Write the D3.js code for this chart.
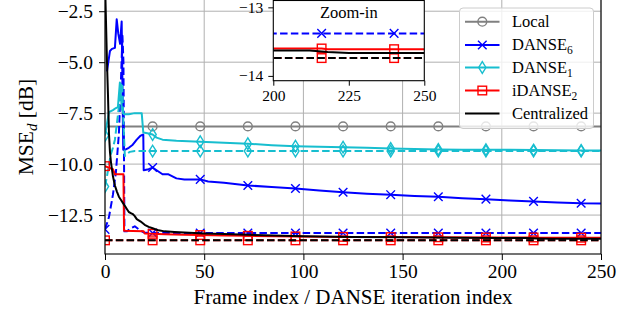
<!DOCTYPE html>
<html><head><meta charset="utf-8">
<script src="https://cdn.jsdelivr.net/npm/d3@7"></script>
<style>
html,body{margin:0;padding:0;background:#fff;}
svg{display:block;}
svg text{font-family:"Liberation Serif","Times New Roman",serif !important;}
</style></head>
<body>
<svg id="chart" width="640" height="315"></svg>
<script>
// ---------------- DATA ----------------
const xTicks = [0, 50, 100, 150, 200, 250];
const yTicks = [-2.5, -5.0, -7.5, -10.0, -12.5];
const insetXTicks = [200, 225, 250];
const insetYTicks = [-13, -14];
const legendLabels = ["Local", "DANSE", "DANSE", "iDANSE", "Centralized"];
const legendSubs = ["", "6", "1", "2", ""];

const localX = [1, 24, 48, 72, 96, 120, 144, 168, 192, 216, 240, 250];
const localY = [-8.15, -8.15, -8.15, -8.15, -8.15, -8.15, -8.15, -8.15, -8.15, -8.15, -8.15, -8.15];

const danse6X = [1, 2.5, 3.5, 5, 5.9, 6.7, 7.6, 8.4, 9.2, 10, 12, 14, 16, 18, 19.3, 19.5, 22, 24, 26, 29, 32, 36, 40, 48, 52, 60, 72, 84, 96, 108, 120, 132, 144, 156, 168, 180, 192, 204, 216, 228, 240, 250];
const danse6Y = [-5.45, -4.45, -4.35, -4.3, -2.9, -3.6, -4.1, -3.0, -9.3, -9.3, -9.2, -9.05, -8.8, -8.6, -8.55, -10.3, -10.25, -10.17, -10.3, -10.5, -10.5, -10.7, -10.75, -10.75, -10.85, -10.92, -11.05, -11.12, -11.2, -11.3, -11.38, -11.45, -11.5, -11.56, -11.6, -11.67, -11.72, -11.78, -11.83, -11.88, -11.92, -11.93];

const danse6dX = [0, 2, 4, 5.5, 7, 8, 8.8, 9.3, 9.8, 11, 13, 15, 17, 19.5, 24, 48, 72, 96, 120, 144, 168, 192, 216, 240, 250];
const danse6dY = [-13.2, -12.6, -11.5, -10.4, -8.5, -6.0, -3.7, -5.0, -13.3, -13.3, -13.15, -13.05, -13.2, -13.35, -13.38, -13.38, -13.38, -13.38, -13.38, -13.38, -13.38, -13.38, -13.38, -13.38, -13.38];

const danse1X = [0, 1, 2, 4, 5.5, 6.5, 7.5, 8.5, 9.5, 12, 15, 18.5, 19.3, 22, 24, 26, 29, 36, 48, 60, 72, 84, 96, 108, 120, 132, 144, 156, 168, 180, 192, 204, 216, 228, 240, 250];
const danse1Y = [-8.6, -8.0, -7.45, -7.35, -7.25, -7.2, -6.0, -7.3, -7.55, -7.55, -7.5, -7.5, -8.45, -8.5, -8.55, -8.7, -8.8, -8.85, -8.9, -8.95, -9.0, -9.07, -9.12, -9.15, -9.17, -9.2, -9.23, -9.26, -9.28, -9.29, -9.29, -9.3, -9.31, -9.32, -9.33, -9.33];

const danse1dX = [0, 1, 2, 3, 4, 5, 6, 7, 8, 8.6, 9.3, 10, 11, 12.5, 15, 24, 48, 72, 96, 120, 144, 168, 192, 216, 240, 250];
const danse1dY = [-11.1, -10.6, -10.0, -9.5, -9.2, -8.8, -8.0, -7.2, -6.1, -6.0, -8.0, -9.6, -9.5, -9.4, -9.36, -9.36, -9.36, -9.36, -9.36, -9.36, -9.36, -9.36, -9.36, -9.36, -9.36, -9.36];

const idanseX = [0, 4, 5, 9.3, 9.6, 14, 19.5, 20, 24, 30, 40, 48, 60, 72, 96, 120, 144, 168, 192, 216, 218, 240, 250];
const idanseY = [-10.1, -10.25, -10.5, -10.5, -13.27, -13.28, -13.3, -13.4, -13.42, -13.44, -13.46, -13.48, -13.5, -13.52, -13.55, -13.57, -13.58, -13.59, -13.6, -13.6, -13.61, -13.61, -13.61];

const idansedX = [0, 24, 48, 72, 96, 120, 144, 168, 192, 216, 240, 250];
const idansedY = [-13.74, -13.74, -13.74, -13.74, -13.74, -13.74, -13.74, -13.74, -13.74, -13.74, -13.74, -13.74];

const centralX = [0, 0.5, 1, 1.5, 2, 2.5, 3, 4, 5, 6, 7, 8, 9, 10, 11, 12, 13, 14, 15, 16, 18, 20, 22, 24, 27, 30, 35, 40, 50, 60, 80, 100, 125, 150, 175, 200, 212, 218, 225, 250];
const centralY = [-1.0, -3.0, -5.0, -6.6, -8.5, -9.4, -9.9, -10.6, -11.05, -11.35, -11.6, -11.75, -11.9, -12.05, -12.2, -12.35, -12.4, -12.45, -12.55, -12.7, -12.82, -12.98, -13.08, -13.15, -13.25, -13.3, -13.33, -13.36, -13.4, -13.43, -13.49, -13.54, -13.57, -13.59, -13.61, -13.63, -13.63, -13.65, -13.665, -13.665];

const centraldX = [0, 250];
const centraldY = [-13.74, -13.74];

// ---------------- STYLE ----------------
const C = {gray: "#808080", blue: "#0000ff", cyan: "#17becf", red: "#ff0000", black: "#000000"};
const series = [
  {x: localX, y: localY, color: C.gray, dash: null, marker: "circle"},
  {x: danse6X, y: danse6Y, color: C.blue, dash: null, marker: "x"},
  {x: danse6dX, y: danse6dY, color: C.blue, dash: "7.5,3.3", marker: "x"},
  {x: danse1X, y: danse1Y, color: C.cyan, dash: null, marker: "diamond"},
  {x: danse1dX, y: danse1dY, color: C.cyan, dash: "7.5,3.3", marker: "diamond"},
  {x: idanseX, y: idanseY, color: C.red, dash: null, marker: "square"},
  {x: idansedX, y: idansedY, color: C.red, dash: "7.5,3.3", marker: "square"},
  {x: centralX, y: centralY, color: C.black, dash: null, marker: null},
  {x: centraldX, y: centraldY, color: C.black, dash: "7.5,3.3", marker: null}
];

const svg = d3.select("#chart");
const L = 105, R = 601, T = 0, B = 254;
const x = d3.scaleLinear().domain([0, 250]).range([L, R]);
const y = d3.scaleLinear().domain([-14.41, -1.95]).range([B, T]);

function drawMarker(g, type, cx, cy, color) {
  const sw = 1.4;
  if (type === "circle") {
    g.append("circle").attr("cx", cx).attr("cy", cy).attr("r", 4.4)
      .attr("fill", "none").attr("stroke", color).attr("stroke-width", sw);
  } else if (type === "x") {
    const s = 4.3;
    g.append("path").attr("d", `M${cx-s},${cy-s}L${cx+s},${cy+s}M${cx-s},${cy+s}L${cx+s},${cy-s}`)
      .attr("fill", "none").attr("stroke", color).attr("stroke-width", sw);
  } else if (type === "diamond") {
    const w = 3.6, h = 5.8;
    g.append("path").attr("d", `M${cx},${cy-h}L${cx+w},${cy}L${cx},${cy+h}L${cx-w},${cy}Z`)
      .attr("fill", "none").attr("stroke", color).attr("stroke-width", sw);
  } else if (type === "square") {
    const s = 4.3;
    g.append("rect").attr("x", cx-s).attr("y", cy-s).attr("width", 2*s).attr("height", 2*s)
      .attr("fill", "none").attr("stroke", color).attr("stroke-width", sw);
  }
}

const defs = svg.append("defs");
defs.append("clipPath").attr("id", "clipMain").append("rect")
  .attr("x", L).attr("y", T - 2).attr("width", R - L).attr("height", B - T + 2);

// grid
const grid = svg.append("g");
xTicks.forEach(t => grid.append("line").attr("x1", x(t)).attr("x2", x(t)).attr("y1", T - 2).attr("y2", B)
  .attr("stroke", "#b0b0b0").attr("stroke-width", 1));
yTicks.forEach(t => grid.append("line").attr("x1", L).attr("x2", R).attr("y1", y(t)).attr("y2", y(t))
  .attr("stroke", "#b0b0b0").attr("stroke-width", 1));

function drawSeries(g, xs, ys, clipId) {
  const gg = g.append("g").attr("clip-path", `url(#${clipId})`);
  series.forEach(s => {
    const pts = s.x.map((d, i) => [d, s.y[i]]);
    const line = d3.line().x(d => xs(d[0])).y(d => ys(d[1]));
    gg.append("path").attr("d", line(pts)).attr("fill", "none").attr("stroke", s.color)
      .attr("stroke-width", 2).attr("stroke-dasharray", s.dash).attr("stroke-linejoin", "round");
    if (s.marker) {
      pts.filter(d => d[0] % 24 === 0).forEach(d => drawMarker(gg, s.marker, xs(d[0]), ys(d[1]), s.color));
    }
  });
}
drawSeries(svg, x, y, "clipMain");

function styleAxis(a, fs) {
  a.attr("font-family", null).attr("font-size", null);
  a.select(".domain").remove();
  a.selectAll("line").attr("stroke", "#000").attr("stroke-width", 1);
  a.selectAll("text").attr("font-size", fs).attr("fill", "#000");
}
// axes main
const ax = svg.append("g").attr("transform", `translate(0,${B})`)
  .call(d3.axisBottom(x).tickValues(xTicks).tickSize(6).tickPadding(4).tickFormat(d3.format("d")));
const ay = svg.append("g").attr("transform", `translate(${L},0)`)
  .call(d3.axisLeft(y).tickValues(yTicks).tickSize(6).tickPadding(6).tickFormat(d3.format(".1f")));
styleAxis(ax, 19.5);
styleAxis(ay, 19.5);
// spines
svg.append("rect").attr("x", L).attr("y", T - 1).attr("width", R - L).attr("height", B - T + 1)
  .attr("fill", "none").attr("stroke", "#000").attr("stroke-width", 1.1);

// axis labels
svg.append("text").attr("x", (L + R) / 2).attr("y", 304).attr("text-anchor", "middle")
  .attr("font-size", 21).text("Frame index / DANSE iteration index");
const yl = svg.append("text").attr("transform", `translate(33,${(T + B) / 2}) rotate(-90)`)
  .attr("text-anchor", "middle").attr("font-size", 21.5);
yl.append("tspan").text("MSE");
yl.append("tspan").attr("font-style", "italic").attr("font-size", 15).attr("dy", 4).text("d");
yl.append("tspan").attr("dy", -4).text(" [dB]");

// ---------------- INSET ----------------
const iL = 273.3, iR = 424.3, iT = 0.5, iB = 80.7;
const xi = d3.scaleLinear().domain([200, 250]).range([iL, iR]);
const yi = d3.scaleLinear().domain([-14.07, -12.9]).range([iB, iT]);
svg.append("rect").attr("x", iL).attr("y", iT).attr("width", iR - iL).attr("height", iB - iT).attr("fill", "#fff");
defs.append("clipPath").attr("id", "clipInset").append("rect")
  .attr("x", iL).attr("y", iT).attr("width", iR - iL).attr("height", iB - iT);
drawSeries(svg, xi, yi, "clipInset");
const iax = svg.append("g").attr("transform", `translate(0,${iB})`)
  .call(d3.axisBottom(xi).tickValues(insetXTicks).tickSize(5).tickPadding(4).tickFormat(d3.format("d")));
const iay = svg.append("g").attr("transform", `translate(${iL},0)`)
  .call(d3.axisLeft(yi).tickValues(insetYTicks).tickSize(5).tickPadding(5).tickFormat(d3.format("d")));
styleAxis(iax, 15.5);
styleAxis(iay, 15.5);
svg.append("rect").attr("x", iL).attr("y", iT).attr("width", iR - iL).attr("height", iB - iT)
  .attr("fill", "none").attr("stroke", "#000").attr("stroke-width", 1.1);
svg.append("text").attr("x", (iL + iR) / 2).attr("y", 17.5).attr("text-anchor", "middle")
  .attr("font-size", 16.5).text("Zoom-in");

// ---------------- LEGEND ----------------
const lg = svg.append("g");
lg.append("rect").attr("x", 459.5).attr("y", 8).attr("width", 134).attr("height", 120.5)
  .attr("rx", 3.5).attr("fill", "#fff").attr("fill-opacity", 0.8).attr("stroke", "#cccccc").attr("stroke-width", 1);
const legendSeries = [series[0], series[1], series[3], series[5], series[7]];
const rowY = [21.7, 45, 67.5, 90.5, 113.5];
legendSeries.forEach((s, i) => {
  const yy = rowY[i];
  lg.append("line").attr("x1", 465).attr("x2", 499.5).attr("y1", yy).attr("y2", yy)
    .attr("stroke", s.color).attr("stroke-width", 2);
  if (s.marker) drawMarker(lg, s.marker, 482.3, yy, s.color);
  const t = lg.append("text").attr("x", 512).attr("y", yy).attr("dy", "0.33em").attr("font-size", 16.5);
  t.append("tspan").text(legendLabels[i]);
  if (legendSubs[i]) t.append("tspan").attr("font-size", 11.5).attr("dy", 4).text(legendSubs[i]);
});
</script>
</body></html>
